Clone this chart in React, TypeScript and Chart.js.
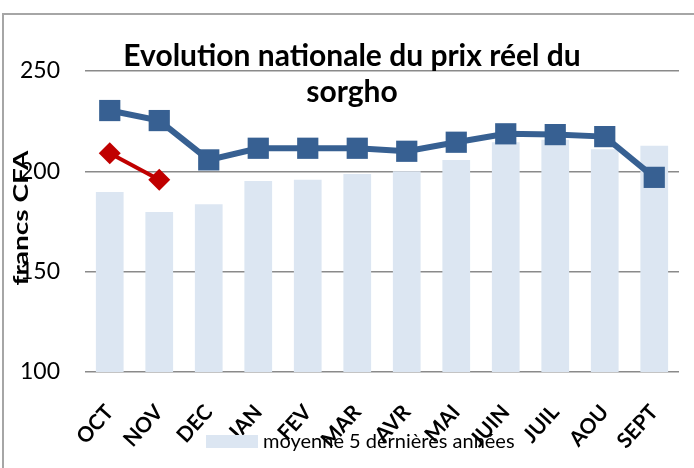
import React, { useEffect, useRef } from "react";
import { Chart, registerables } from "chart.js";
Chart.register(...registerables);

const months = ["OCT", "NOV", "DEC", "JAN", "FEV", "MAR", "AVR", "MAI", "JUIN", "JUIL", "AOU", "SEPT"];
const avg5Years = [189.7, 179.7, 183.6, 195.2, 195.8, 198.7, 200, 205.7, 214.5, 215.7, 211, 212.8];
const previousYear = [230.3, 225.3, 205.7, 211.5, 211.5, 211.5, 210, 214.5, 218.7, 218.3, 217.3, 197];
const currentYear = [209, 195.8, null, null, null, null, null, null, null, null, null, null];
const yMin = 100;
const yMax = 250;
const yStep = 50;
const titleLines = ["Evolution nationale du prix réel du", "sorgho"];
const yTitle = "francs CFA";
const legendLabel = "moyenne 5 dernières années";

const BAR_COLOR = "#dce6f2";
const BLUE = "#376092";
const RED = "#c00000";
const FONT = "Lato, 'Open Sans', sans-serif";

const overlay = {
  id: "overlay",
  beforeDraw(chart: any) {
    const { ctx, width, height } = chart;
    ctx.save();
    ctx.fillStyle = "#fff";
    ctx.fillRect(0, 0, width, height);
    ctx.strokeStyle = "#a6a6a6";
    ctx.lineWidth = 2;
    ctx.beginPath();
    ctx.moveTo(3, height);
    ctx.lineTo(3, 14);
    ctx.lineTo(width, 14);
    ctx.stroke();
    ctx.restore();
  },
  afterDraw(chart: any) {
    const { ctx } = chart;
    ctx.save();
    ctx.fillStyle = "#000";
    ctx.font = `bold 30px ${FONT}`;
    ctx.textAlign = "center";
    ctx.textBaseline = "alphabetic";
    ctx.fillText(titleLines[0], 352, 66);
    ctx.fillText(titleLines[1], 352, 102);

    ctx.save();
    ctx.translate(22, 218);
    ctx.rotate(-Math.PI / 2);
    ctx.scale(1.4, 1);
    ctx.font = `bold 20px ${FONT}`;
    ctx.textAlign = "center";
    ctx.textBaseline = "middle";
    ctx.fillText(yTitle, 0, 0);
    ctx.restore();

    ctx.fillStyle = BAR_COLOR;
    ctx.fillRect(206, 435, 52, 13);
    ctx.fillStyle = "#000";
    ctx.font = `20px ${FONT}`;
    ctx.textAlign = "left";
    ctx.textBaseline = "middle";
    ctx.fillText(legendLabel, 263, 442);
    ctx.restore();
  },
};

export default function App() {
  const ref = useRef<HTMLCanvasElement | null>(null);
  useEffect(() => {
    document.body.style.margin = "0";
    const chart = new Chart(ref.current as HTMLCanvasElement, {
      type: "bar",
      data: {
        labels: months,
        datasets: [
          {
            type: "line",
            label: "année en cours",
            data: currentYear,
            borderColor: RED,
            backgroundColor: RED,
            borderWidth: 4,
            pointStyle: "rectRot",
            pointRadius: 11,
            pointBorderWidth: 0,
            order: 1,
          } as any,
          {
            type: "line",
            label: "année précédente",
            data: previousYear,
            borderColor: BLUE,
            backgroundColor: BLUE,
            borderWidth: 6,
            pointStyle: "rect",
            pointRadius: 15,
            pointBorderWidth: 0,
            order: 2,
          } as any,
          {
            type: "bar",
            label: legendLabel,
            data: avg5Years,
            backgroundColor: BAR_COLOR,
            barPercentage: 0.56,
            categoryPercentage: 1,
            order: 3,
          } as any,
        ],
      },
      options: {
        responsive: false,
        animation: false,
        layout: { padding: { top: 71, right: 9, left: 0, bottom: 0 } },
        plugins: {
          legend: { display: false },
          title: { display: false },
          tooltip: { enabled: false },
        },
        scales: {
          x: {
            grid: { display: false },
            border: { display: false },
            ticks: {
              color: "#000",
              font: { family: FONT, size: 21, weight: "bold" },
              minRotation: 48,
              maxRotation: 48,
              padding: 20,
              autoSkip: false,
            },
            afterFit(scale: any) {
              scale.height = 96;
            },
          },
          y: {
            min: yMin,
            max: yMax,
            grid: { color: "#8a8a8a", lineWidth: 1.5, drawTicks: false },
            border: { display: false },
            ticks: {
              stepSize: yStep,
              color: "#000",
              font: { family: FONT, size: 23 },
              padding: 25,
            },
            afterFit(scale: any) {
              scale.width = 85;
            },
          },
        },
      },
      plugins: [overlay],
    });
    return () => chart.destroy();
  }, []);
  return (
    <div style={{ width: 694, height: 468 }}>
      <canvas ref={ref} width={694} height={468} />
    </div>
  );
}
